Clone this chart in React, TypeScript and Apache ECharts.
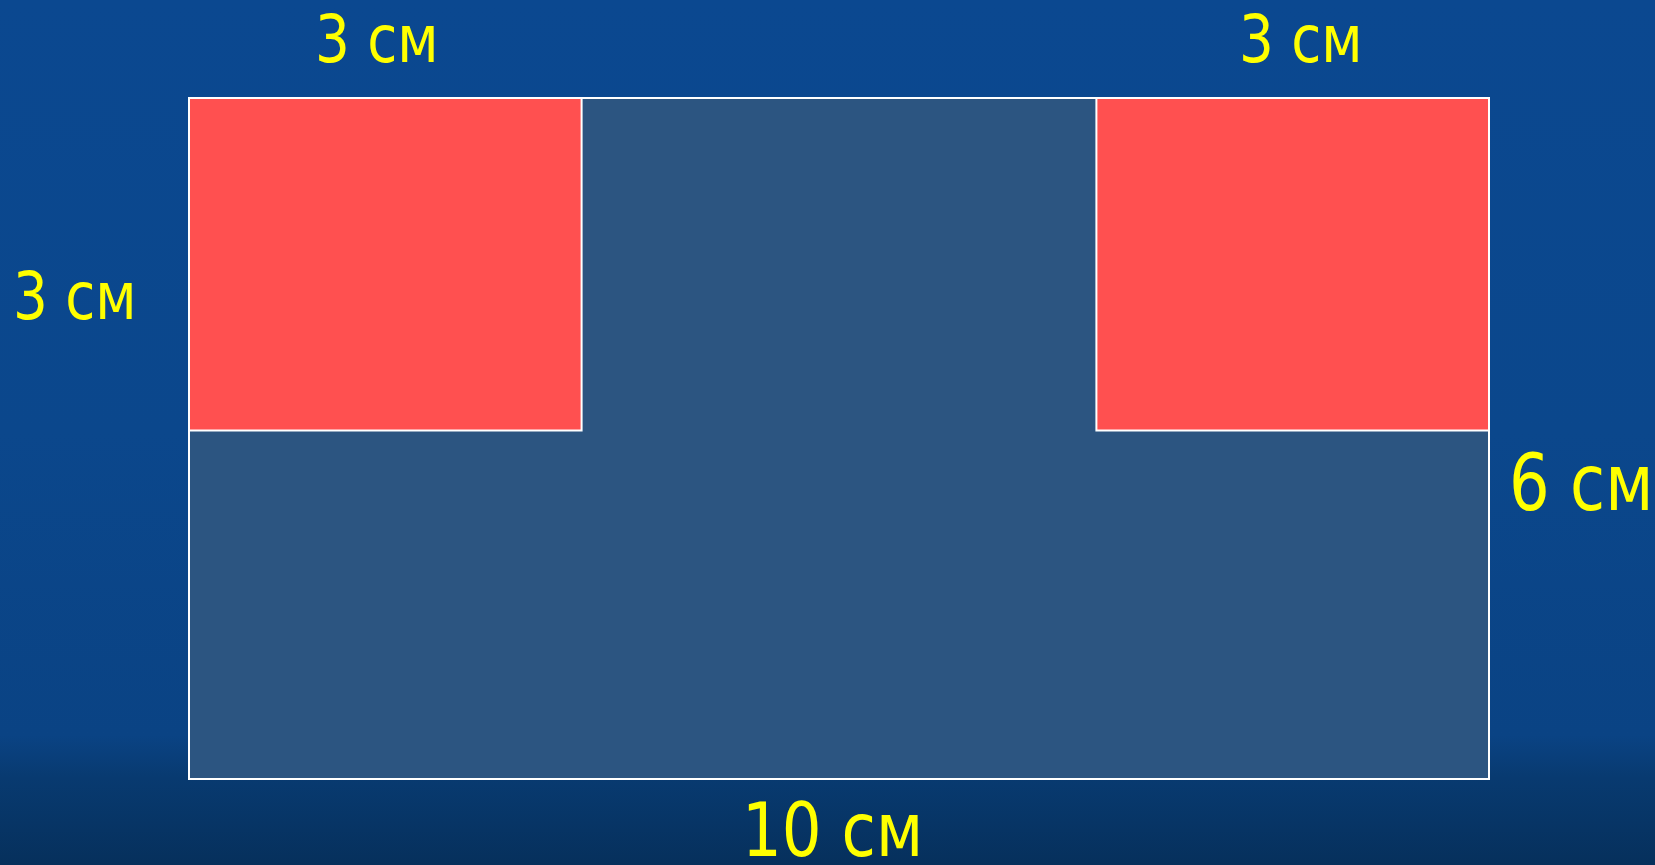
import React, { useEffect, useRef } from "react";
import * as echarts from "echarts";

// Shapes in centimetres: [x0, y0, x1, y1]
const shapeNames = ["основа", "квадрат слева", "квадрат справа"];
const shapeBoxes: number[][] = [
  [0, 0, 10, 6],
  [0, 3.07, 3.02, 6],
  [6.98, 3.07, 10, 6],
];
const shapeColors = ["#2c5581", "#ff5050", "#ff5050"];

// Dimension labels
const labelTexts = ["3 см", "3 см", "3 см", "6 см", "10 см"];

export default function App() {
  const ref = useRef<HTMLDivElement>(null);
  useEffect(() => {
    if (!ref.current) return;
    const chart = echarts.init(ref.current, undefined, { renderer: "svg" });
    const font = "DejaVu Sans";
    const yellow = "#ffff00";
    const label = (text: string, x: number, y: number, size: number, sx: number, lh?: number) => ({
      type: "text",
      x,
      y,
      scaleX: sx,
      style: {
        text,
        fontSize: size,
        fontFamily: font,
        fill: yellow,
        textVerticalAlign: "top",
        textAlign: "left",
        lineHeight: lh ?? size,
      },
    });
    chart.setOption({
      animation: false,
      backgroundColor: {
        type: "linear",
        x: 0,
        y: 0,
        x2: 0,
        y2: 1,
        colorStops: [
          { offset: 0, color: "#0b4890" },
          { offset: 0.5, color: "#0b478c" },
          { offset: 0.85, color: "#0a4384" },
          { offset: 0.9, color: "#083a70" },
          { offset: 1, color: "#06305c" },
        ],
      },
      grid: { left: 189, right: 166, top: 98, bottom: 86 },
      xAxis: { type: "value", min: 0, max: 10, show: false },
      yAxis: { type: "value", min: 0, max: 6, show: false },
      series: [
        {
          type: "custom",
          data: shapeBoxes.map((b, i) => ({ name: shapeNames[i], value: [...b, i] })),
          renderItem: (params: any, api: any) => {
            const p0 = api.coord([api.value(0), api.value(3)]);
            const p1 = api.coord([api.value(2), api.value(1)]);
            const idx = api.value(4);
            return {
              type: "rect",
              shape: { x: p0[0], y: p0[1], width: p1[0] - p0[0], height: p1[1] - p0[1] },
              style: { fill: shapeColors[idx], stroke: "#ffffff", lineWidth: 2 },
            };
          },
        },
      ],
      graphic: [
        label(labelTexts[0], 315, 6, 66, 0.83),
        label(labelTexts[1], 1239, 6, 66, 0.83),
        label(labelTexts[2], 13, 263, 66, 0.83),
        label(labelTexts[3], 1509, 444, 78, 0.82),
        label(labelTexts[4], 742, 799, 75, 0.835, 62),
      ],
    });
    return () => chart.dispose();
  }, []);
  return (
    <div
      ref={ref}
      style={{ position: "fixed", left: 0, top: 0, width: 1655, height: 865 }}
    />
  );
}
